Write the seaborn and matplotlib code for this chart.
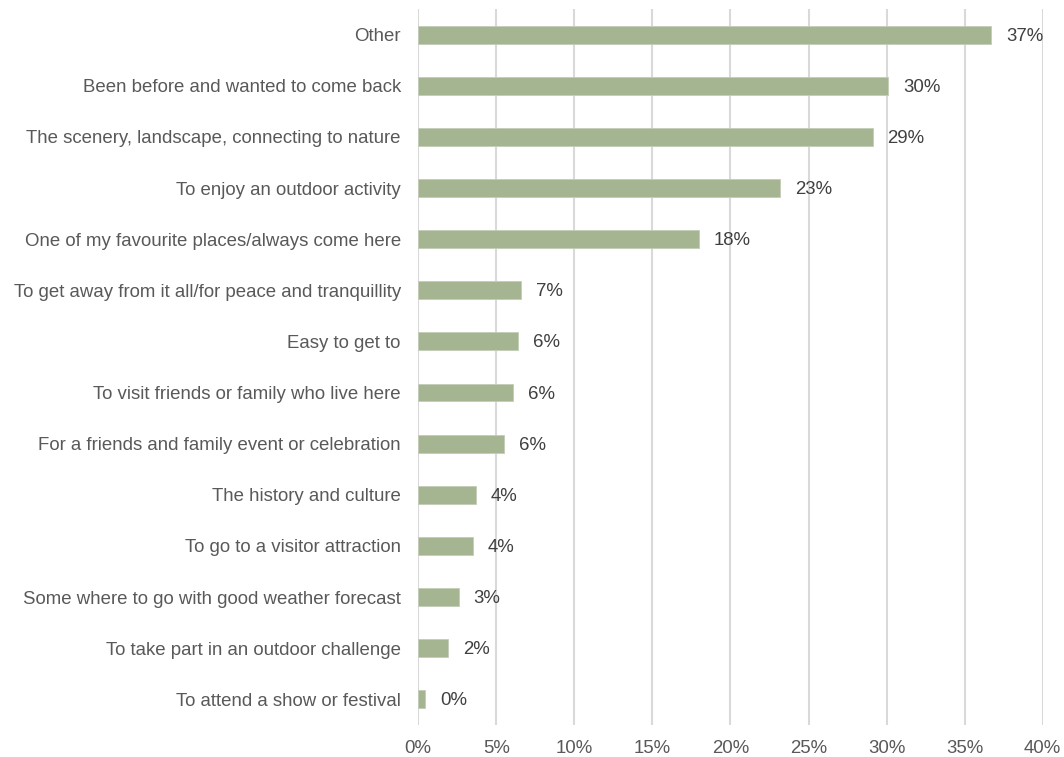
import matplotlib
matplotlib.use("Agg")
import matplotlib.pyplot as plt
from matplotlib.ticker import FuncFormatter
import seaborn as sns
import pandas as pd

reasons = [
    "Other",
    "Been before and wanted to come back",
    "The scenery, landscape, connecting to nature",
    "To enjoy an outdoor activity",
    "One of my favourite places/always come here",
    "To get away from it all/for peace and tranquillity",
    "Easy to get to",
    "To visit friends or family who live here",
    "For a friends and family event or celebration",
    "The history and culture",
    "To go to a visitor attraction",
    "Some where to go with good weather forecast",
    "To take part in an outdoor challenge",
    "To attend a show or festival",
]
shares = [36.7, 30.1, 29.1, 23.2, 18.0, 6.6, 6.4, 6.1, 5.5, 3.7, 3.5, 2.6, 1.9, 0.45]

df = pd.DataFrame({"reason": reasons, "share": shares})

sns.set_theme(style="white")
plt.rcParams["font.family"] = ["Liberation Sans", "DejaVu Sans"]

fig = plt.figure(figsize=(10.64, 7.57), dpi=100)
ax = fig.add_axes([0.393, 0.0425, 0.587, 0.9455])

sns.barplot(data=df, x="share", y="reason", color="#a5b592", width=0.35,
            saturation=1, edgecolor="#c3cdb5", linewidth=0.6, ax=ax, zorder=3)

ax.set_xlim(0, 40)
ax.set_ylim(13.5, -0.5)
ax.set_xticks(range(0, 41, 5))
ax.xaxis.set_major_formatter(FuncFormatter(lambda v, _: f"{v:.0f}%"))
ax.grid(axis="x", color="#d9d9d9", linewidth=1.5, zorder=0)
ax.set_axisbelow(True)
for s in ax.spines.values():
    s.set_visible(False)
ax.set_xlabel("")
ax.set_ylabel("")
ax.tick_params(axis="x", length=0, pad=11, labelsize=13.4, labelcolor="#595959")
ax.tick_params(axis="y", length=0, pad=12.5, labelsize=13.4, labelcolor="#595959")

for i, v in enumerate(shares):
    ax.text(v + 0.95, i + 0.03, f"{v:.0f}%", va="center", ha="left",
            fontsize=13.4, color="#404040")

fig.savefig("out.png", dpi=100)
